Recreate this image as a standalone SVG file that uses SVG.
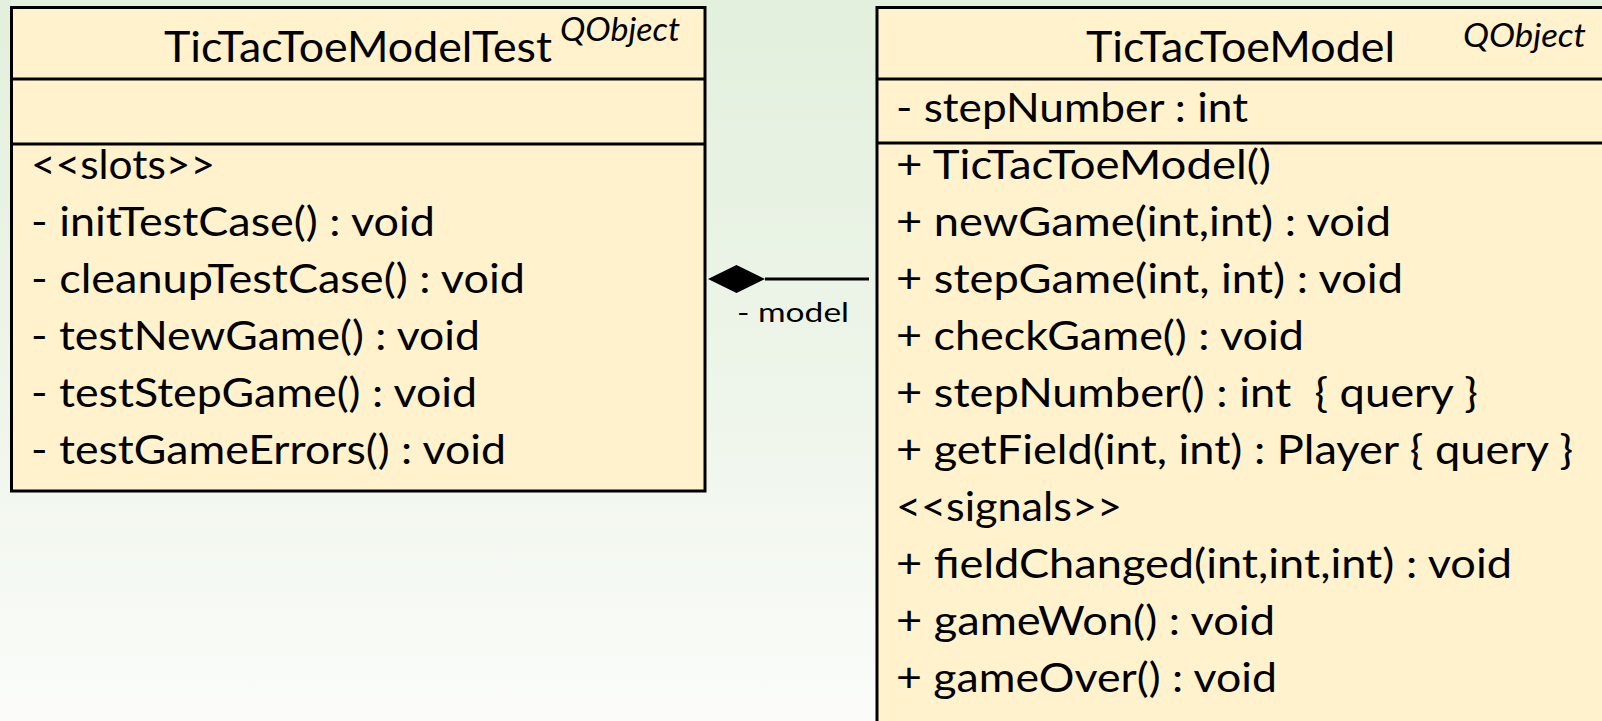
<svg xmlns="http://www.w3.org/2000/svg" width="1602" height="721" viewBox="0 0 1602 721">
  <defs>
    <linearGradient id="bg" x1="0" y1="0" x2="0" y2="1">
      <stop offset="0" stop-color="#e3f0dd"/>
      <stop offset="0.55" stop-color="#eef5ea"/>
      <stop offset="1" stop-color="#fbfcfa"/>
    </linearGradient>
    <style>
      .box { fill: #fff2cc; stroke: #000; stroke-width: 3; }
      .sep { stroke: #000; stroke-width: 3; }
      .title { font-family: Lato, "Liberation Sans", sans-serif; font-size: 42px; fill: #000; }
      .stereo { font-family: Lato, "Liberation Sans", sans-serif; font-size: 32px; font-style: italic; fill: #000; }
      .row { font-family: Lato, "Liberation Sans", sans-serif; font-size: 40px; fill: #000; }
      .role { font-family: Lato, "Liberation Sans", sans-serif; font-size: 27px; fill: #000; }
      .link { stroke: #000; stroke-width: 3; fill: none; }
    </style>
  </defs>

  <rect x="0" y="0" width="1602" height="721" fill="url(#bg)"/>

  <!-- Test class -->
  <g id="TicTacToeModelTest">
    <rect class="box" x="11.5" y="7.5" width="693.5" height="483.5"/>
    <line class="sep" x1="11.5" y1="79" x2="705" y2="79"/>
    <line class="sep" x1="11.5" y1="144" x2="705" y2="144"/>
    <text class="title" x="164" y="62" textLength="388" lengthAdjust="spacingAndGlyphs">TicTacToeModelTest</text>
    <text class="stereo" x="560" y="41" textLength="120" lengthAdjust="spacingAndGlyphs">QObject</text>
    <text class="row" x="31" y="179" textLength="184" lengthAdjust="spacingAndGlyphs">&lt;&lt;slots&gt;&gt;</text>
    <text class="row" x="31" y="236" textLength="404" lengthAdjust="spacingAndGlyphs">- initTestCase() : void</text>
    <text class="row" x="31" y="293" textLength="494" lengthAdjust="spacingAndGlyphs">- cleanupTestCase() : void</text>
    <text class="row" x="31" y="350" textLength="449" lengthAdjust="spacingAndGlyphs">- testNewGame() : void</text>
    <text class="row" x="31" y="407" textLength="446" lengthAdjust="spacingAndGlyphs">- testStepGame() : void</text>
    <text class="row" x="31" y="464" textLength="475" lengthAdjust="spacingAndGlyphs">- testGameErrors() : void</text>
  </g>

  <!-- Model class -->
  <g id="TicTacToeModel">
    <rect class="box" x="877" y="7.5" width="740" height="730"/>
    <line class="sep" x1="877" y1="79" x2="1610" y2="79"/>
    <line class="sep" x1="877" y1="143" x2="1610" y2="143"/>
    <text class="title" x="1086" y="62" textLength="309" lengthAdjust="spacingAndGlyphs">TicTacToeModel</text>
    <text class="stereo" x="1463" y="47" textLength="123" lengthAdjust="spacingAndGlyphs">QObject</text>
    <text class="row" x="896" y="122" textLength="352" lengthAdjust="spacingAndGlyphs">- stepNumber : int</text>
    <text class="row" x="896" y="179" textLength="375" lengthAdjust="spacingAndGlyphs">+ TicTacToeModel()</text>
    <text class="row" x="896" y="236" textLength="495" lengthAdjust="spacingAndGlyphs">+ newGame(int,int) : void</text>
    <text class="row" x="896" y="293" textLength="507" lengthAdjust="spacingAndGlyphs">+ stepGame(int, int) : void</text>
    <text class="row" x="896" y="350" textLength="408" lengthAdjust="spacingAndGlyphs">+ checkGame() : void</text>
    <text class="row" x="896" y="407" textLength="582" lengthAdjust="spacingAndGlyphs" xml:space="preserve">+ stepNumber() : int  { query }</text>
    <text class="row" x="896" y="464" textLength="677" lengthAdjust="spacingAndGlyphs">+ getField(int, int) : Player { query }</text>
    <text class="row" x="896" y="521" textLength="226" lengthAdjust="spacingAndGlyphs">&lt;&lt;signals&gt;&gt;</text>
    <text class="row" x="896" y="578" textLength="616" lengthAdjust="spacingAndGlyphs">+ fieldChanged(int,int,int) : void</text>
    <text class="row" x="896" y="635" textLength="379" lengthAdjust="spacingAndGlyphs">+ gameWon() : void</text>
    <text class="row" x="896" y="692" textLength="381" lengthAdjust="spacingAndGlyphs">+ gameOver() : void</text>
  </g>

  <!-- Composition: test owns the model -->
  <g id="connectors">
    <line class="link" x1="765" y1="279" x2="869" y2="279"/>
    <polygon points="708,279 736.5,265 765,279 736.5,293" fill="#000"/>
    <text class="role" x="737" y="322" textLength="112" lengthAdjust="spacingAndGlyphs">- model</text>
  </g>
</svg>
